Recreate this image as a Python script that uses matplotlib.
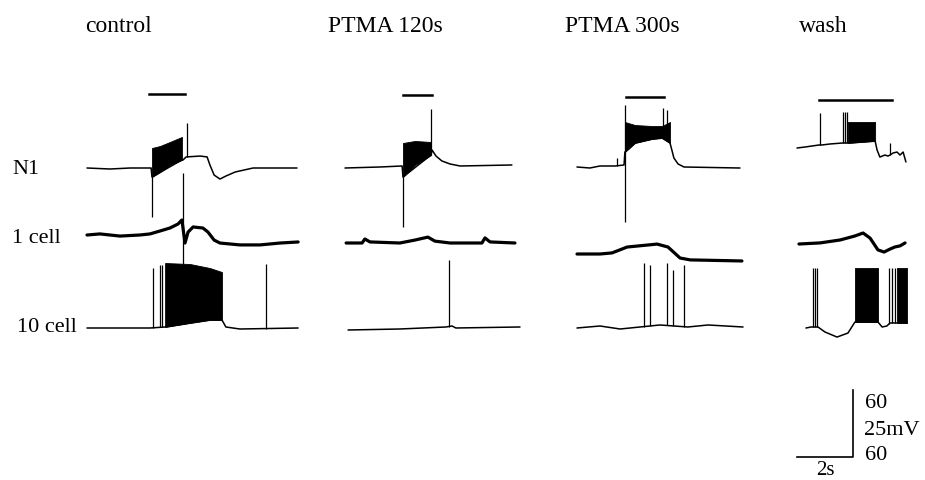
import numpy as np
import matplotlib.pyplot as plt

plt.rcParams['font.family'] = ['Liberation Serif', 'DejaVu Serif']

W, H = 925, 480
PX_PER_S = 28.0
# 60 mV (N1, 10 cell) or 25 mV (1 cell) per 67 px
MV_PX = {'N1': 67 / 60, '1 cell': 67 / 25, '10 cell': 67 / 60}

conditions = ['control', 'PTMA 120s', 'PTMA 300s', 'wash']
rows = ['N1', '1 cell', '10 cell']

# stimulus bars (s from trace start) and their height (mV on N1 scale)
stim_on = [2.21, 2.07, 1.75, 0.79]
stim_off = [3.50, 3.11, 3.11, 3.39]
stim_mv = [66, 65, 63, 43]

# ---- control ----
ctl_n1_t = [0, 0.82, 1.54, 2.29, 2.32, 3.39, 3.43, 3.54, 4.04, 4.29, 4.39, 4.54, 4.75, 4.96, 5.29, 5.93, 7.5]
ctl_n1_v = [0, -0.9, 0, 0, -8.1, 7.2, 7.2, 9.9, 10.7, 9.9, 2.7, -6.3, -9.9, -7.2, -3.6, 0, 0]
ctl_n1_spk_t = [2.32, 3.57]
ctl_n1_spk_v = [-43.9, 40.3]
ctl_n1_burst_t = [2.32, 2.61, 2.96, 3.39]
ctl_n1_burst_top = [17.9, 19.7, 23.3, 27.8]
ctl_n1_burst_bot = [-8.1, -3.6, 2.7, 7.2]

ctl_c1_t = [0, 0.46, 1.18, 1.89, 2.25, 2.61, 2.96, 3.25, 3.39, 3.50, 3.61, 3.79, 4.14, 4.32, 4.54, 4.75, 5.46, 6.18, 6.89, 7.54]
ctl_c1_v = [0, 0.4, -0.4, 0, 0.4, 1.5, 2.6, 4.1, 5.6, -3.0, 1.1, 3.0, 2.6, 1.1, -1.9, -3.0, -3.7, -3.7, -3.0, -2.6]
ctl_c1_spk_t = [3.43]
ctl_c1_spk_v = [23.1]
ctl_c1_spk_low = [-11.2]

ctl_c10_t = [0, 2.25, 2.79, 3.68, 4.39, 4.82, 4.96, 5.46, 7.54]
ctl_c10_v = [0, 0, 0.9, 4.5, 7.2, 7.2, 0.9, -0.9, 0]
ctl_c10_spk_t = [2.36, 2.61, 2.68, 6.39]
ctl_c10_spk_v = [53.7, 56.4, 56.4, 57.3]
ctl_c10_burst_t = [2.79, 3.68, 4.39, 4.82]
ctl_c10_burst_top = [58.2, 57.3, 53.7, 50.1]
ctl_c10_burst_bot = [0.9, 4.5, 7.2, 7.2]

# ---- PTMA 120 s ----
p120_n1_t = [0, 1.25, 2.04, 2.07, 3.07, 3.11, 3.25, 3.46, 3.75, 4.11, 5.96]
p120_n1_v = [0, 0.9, 1.8, -8.1, 11.6, 16.1, 10.7, 6.3, 3.6, 1.8, 2.7]
p120_n1_spk_t = [2.07, 3.07]
p120_n1_spk_v = [-52.8, 52.8]
p120_n1_burst_t = [2.07, 2.5, 3.07]
p120_n1_burst_top = [22.4, 24.2, 23.3]
p120_n1_burst_bot = [-8.1, 2.7, 11.6]

p120_c1_t = [0.04, 0.61, 0.71, 0.89, 1.96, 2.5, 2.96, 3.21, 3.75, 4.89, 5.0, 5.18, 6.07]
p120_c1_v = [0, 0, 1.5, 0.4, 0, 1.1, 2.2, 0.7, 0, 0, 1.9, 0.4, 0]

p120_c10_t = [0.11, 1.96, 3.61, 3.82, 3.96, 6.25]
p120_c10_v = [0, 0.9, 2.7, 3.6, 1.8, 2.7]
p120_c10_spk_t = [3.71]
p120_c10_spk_v = [62.7]

# ---- PTMA 300 s ----
p300_n1_t = [0, 0.46, 0.82, 1.36, 1.68, 1.71, 2.07, 2.68, 3.04, 3.32, 3.36, 3.46, 3.61, 3.82, 5.82]
p300_n1_v = [0, -0.9, 0.9, 0.9, 1.8, 13.4, 21.5, 25.1, 26.0, 21.5, 17.9, 8.1, 2.7, 0, -0.9]
p300_n1_spk_t = [1.43, 1.71, 1.71, 3.07, 3.21]
p300_n1_spk_v = [8.1, -49.2, 55.5, 52.8, 51.0]
p300_n1_burst_t = [1.71, 2.07, 2.68, 3.04, 3.32]
p300_n1_burst_top = [40.3, 37.6, 36.7, 36.7, 40.3]
p300_n1_burst_bot = [13.4, 21.5, 25.1, 26.0, 21.5]

p300_c1_t = [0, 0.82, 1.25, 1.79, 2.86, 3.25, 3.68, 4.04, 5.89]
p300_c1_v = [0, 0, 0.4, 2.6, 3.7, 2.6, -1.5, -2.2, -2.6]

p300_c10_t = [0, 0.82, 1.54, 2.25, 2.96, 3.96, 4.68, 5.93]
p300_c10_v = [0, 1.8, -0.9, 0.9, 2.7, 0.9, 2.7, 0.9]
p300_c10_spk_t = [2.39, 2.61, 3.21, 3.43, 3.82]
p300_c10_spk_v = [58.2, 56.4, 58.2, 51.9, 56.4]

# ---- wash ----
wash_n1_t = [0, 0.29, 0.79, 0.89, 1.18, 1.64, 1.82, 2.79, 2.86, 2.96, 3.14, 3.25, 3.32, 3.43, 3.57, 3.68, 3.79, 3.89]
wash_n1_v = [0, 0.9, 2.7, 2.7, 3.6, 4.5, 4.5, 6.3, -1.8, -8.1, -6.3, -7.2, -6.3, -4.5, -3.6, -6.3, -3.6, -12.5]
wash_n1_spk_t = [0.82, 1.64, 1.71, 1.79, 3.32]
wash_n1_spk_v = [31.3, 32.2, 32.2, 32.2, 4.5]
wash_n1_burst_t = [1.82, 2.79]
wash_n1_burst_top = [23.3, 23.3]
wash_n1_burst_bot = [4.5, 6.3]

wash_c1_t = [0.07, 0.82, 1.54, 2.07, 2.36, 2.61, 2.89, 3.11, 3.32, 3.5, 3.68, 3.86]
wash_c1_v = [0, 0.4, 1.5, 3.0, 4.1, 2.2, -2.2, -3.0, -1.9, -1.1, -0.7, 0.4]

wash_c10_t = [0.32, 0.5, 0.75, 1.0, 1.43, 1.82, 2.07, 2.89, 3.04, 3.21, 3.32, 3.93]
wash_c10_v = [-0.9, 0, 0, -4.5, -9.0, -5.4, 4.5, 4.5, 0, 0.9, 3.6, 3.6]
wash_c10_spk_t = [0.57, 0.64, 0.71, 3.29, 3.39, 3.5]
wash_c10_spk_v = [52.8, 52.8, 52.8, 52.8, 52.8, 52.8]
wash_c10_burst1_t = [2.07, 2.89]
wash_c10_burst2_t = [3.57, 3.93]
wash_c10_burst_top = [52.8, 52.8]
wash_c10_burst1_bot = [4.5, 4.5]
wash_c10_burst2_bot = [3.6, 3.6]

# where each trace starts on the page (px) and its resting level (px)
col_x0 = [87, 345, 577, 797]
row_y0 = {'N1': [168, 168, 167, 148],
          '1 cell': [235, 243, 254, 244],
          '10 cell': [328, 330, 328, 327]}

traces = [
    ('N1', 0, ctl_n1_t, ctl_n1_v, (ctl_n1_spk_t, ctl_n1_spk_v, None),
     [(ctl_n1_burst_t, ctl_n1_burst_top, ctl_n1_burst_bot)]),
    ('1 cell', 0, ctl_c1_t, ctl_c1_v, (ctl_c1_spk_t, ctl_c1_spk_v, ctl_c1_spk_low), []),
    ('10 cell', 0, ctl_c10_t, ctl_c10_v, (ctl_c10_spk_t, ctl_c10_spk_v, None),
     [(ctl_c10_burst_t, ctl_c10_burst_top, ctl_c10_burst_bot)]),
    ('N1', 1, p120_n1_t, p120_n1_v, (p120_n1_spk_t, p120_n1_spk_v, None),
     [(p120_n1_burst_t, p120_n1_burst_top, p120_n1_burst_bot)]),
    ('1 cell', 1, p120_c1_t, p120_c1_v, None, []),
    ('10 cell', 1, p120_c10_t, p120_c10_v, (p120_c10_spk_t, p120_c10_spk_v, None), []),
    ('N1', 2, p300_n1_t, p300_n1_v, (p300_n1_spk_t, p300_n1_spk_v, None),
     [(p300_n1_burst_t, p300_n1_burst_top, p300_n1_burst_bot)]),
    ('1 cell', 2, p300_c1_t, p300_c1_v, None, []),
    ('10 cell', 2, p300_c10_t, p300_c10_v, (p300_c10_spk_t, p300_c10_spk_v, None), []),
    ('N1', 3, wash_n1_t, wash_n1_v, (wash_n1_spk_t, wash_n1_spk_v, None),
     [(wash_n1_burst_t, wash_n1_burst_top, wash_n1_burst_bot)]),
    ('1 cell', 3, wash_c1_t, wash_c1_v, None, []),
    ('10 cell', 3, wash_c10_t, wash_c10_v, (wash_c10_spk_t, wash_c10_spk_v, None),
     [(wash_c10_burst1_t, wash_c10_burst_top, wash_c10_burst1_bot),
      (wash_c10_burst2_t, wash_c10_burst_top, wash_c10_burst2_bot)]),
]

fig = plt.figure(figsize=(W / 100, H / 100), dpi=100)
fig.patch.set_facecolor('white')


def trace_axes(x0, y0, mv_px):
    # full-page axes whose origin (0 s, 0 mV) sits at pixel (x0, y0)
    ax = fig.add_axes([0, 0, 1, 1])
    ax.set_xlim(-x0 / PX_PER_S, (W - x0) / PX_PER_S)
    ax.set_ylim((y0 - H) / mv_px, y0 / mv_px)
    ax.axis('off')
    ax.patch.set_alpha(0)
    return ax


for row, col, t, v, spikes, bursts in traces:
    ax = trace_axes(col_x0[col], row_y0[row][col], MV_PX[row])
    lw = 2.3 if row == '1 cell' else 1.1
    ax.plot(t, v, color='black', lw=lw, solid_capstyle='round', solid_joinstyle='round')
    for bt, top, bot in bursts:
        ax.fill_between(bt, bot, top, color='black', lw=0.6)
    if spikes is not None:
        st, sv, low = spikes
        base = np.interp(st, t, v) if low is None else np.array(low)
        ax.vlines(st, base, sv, color='black', lw=0.9)
    if row == 'N1':
        ax.plot([stim_on[col], stim_off[col]], [stim_mv[col]] * 2, color='black', lw=1.8)

# scale bar: 2 s by 60 mV (N1 / 10 cell scale)
sb = trace_axes(797, 457, MV_PX['N1'])
sb.plot([0, 2, 2], [0, 0, 60], color='black', lw=1.2)

def px_text(x, y, s, **kw):
    fig.text(x / W, 1 - y / H, s, color='black', **kw)

title_x = [119, 385, 622, 823]
for cx, name in zip(title_x, conditions):
    px_text(cx, 32, name, fontsize=17, ha='center', va='baseline')

row_label_x = [12, 12, 17]
row_label_y = [174, 243, 332]
for lx, ly, name in zip(row_label_x, row_label_y, rows):
    px_text(lx, ly, name, fontsize=16, ha='left', va='baseline')

px_text(865, 408, '60', fontsize=16, ha='left', va='baseline')
px_text(864, 435, '25mV', fontsize=16, ha='left', va='baseline')
px_text(865, 460, '60', fontsize=16, ha='left', va='baseline')
px_text(825, 475, '2s', fontsize=15, ha='center', va='baseline')

fig.savefig('out.png', dpi=100, facecolor='white')
